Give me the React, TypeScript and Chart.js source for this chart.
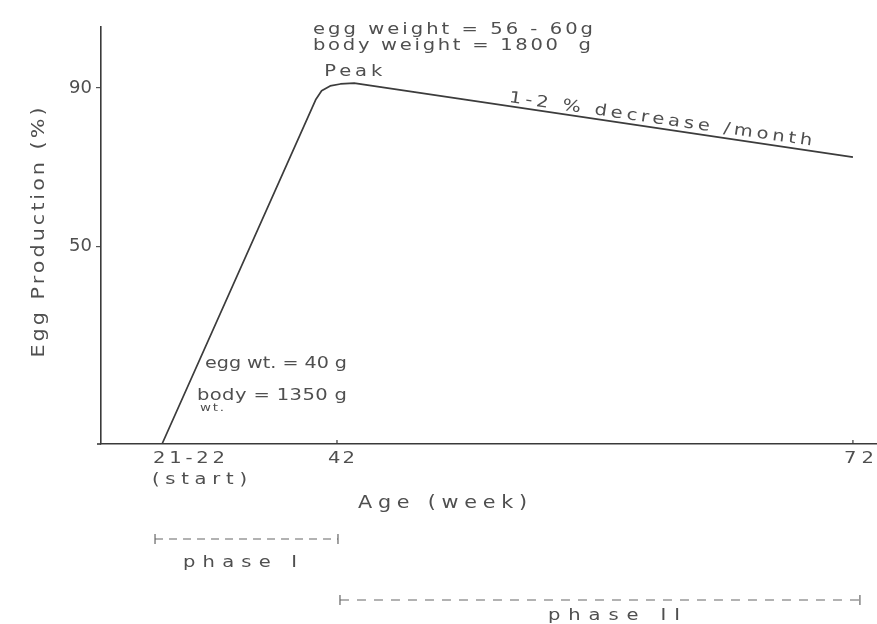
import React, { useEffect, useRef } from 'react';
import { Chart, LineController, LineElement, PointElement, LinearScale } from 'chart.js';

// ---- data ----
const ageWeeks = [21.5, 39.5, 40.2, 41.2, 42.2, 43.0, 72];
const eggProduction = [0, 87.0, 89.3, 90.5, 91.0, 91.2, 72.5];
const xTickValues = [21.5, 42, 72];
const xTickLabels = [['21-22', '(start)'], ['42'], ['72']];
const yTickValues = [50, 90];
const phaseLabels = ['phase I', 'phase II'];
const phaseStarts = [21.5, 42];
const phaseEnds = [42, 72];

const FONT = '"DejaVu Sans", sans-serif';
const INK = '#4f4f4f';

// A linear scale made of two linear pieces (the sketch uses a different
// spacing before and after week 42).
class PiecewiseLinearScale extends LinearScale {
  static id = 'piecewiseLinear';
  static defaults = {};
  _toDecimal(value: number) {
    const o: any = this.options;
    const pv = o.pivotValue as number;
    const pd = o.pivotDecimal as number;
    const min = this.min, max = this.max;
    if (value <= pv) return ((value - min) / (pv - min)) * pd;
    return pd + ((value - pv) / (max - pv)) * (1 - pd);
  }
  getPixelForValue(value: number) {
    if (value === null || value === undefined || isNaN(value)) return NaN;
    return this.getPixelForDecimal(this._toDecimal(value));
  }
  getValueForPixel(pixel: number) {
    const o: any = this.options;
    const pv = o.pivotValue as number;
    const pd = o.pivotDecimal as number;
    const d = this.getDecimalForPixel(pixel);
    if (d <= pd) return this.min + (d / pd) * (pv - this.min);
    return pv + ((d - pd) / (1 - pd)) * (this.max - pv);
  }
}

Chart.register(LineController, LineElement, PointElement, LinearScale, PiecewiseLinearScale);

function drawFit(
  ctx: CanvasRenderingContext2D,
  text: string,
  x: number,
  y: number,
  size: number,
  width: number,
  rot = 0,
  align: 'left' | 'center' = 'left',
  baseline: CanvasTextBaseline = 'alphabetic'
) {
  ctx.save();
  ctx.font = `${size}px ${FONT}`;
  (ctx as any).letterSpacing = '0px';
  const w0 = ctx.measureText(text).width;
  const n = Array.from(text).length;
  const stretch = Math.max(0.85, Math.min(1.22, width / w0));
  const sp = n > 1 ? Math.max(0, (width - w0 * stretch) / (n - 1) / stretch) : 0;
  (ctx as any).letterSpacing = `${sp}px`;
  ctx.fillStyle = INK;
  ctx.textAlign = 'left';
  ctx.textBaseline = baseline;
  ctx.translate(x, y);
  ctx.rotate(rot);
  ctx.scale(stretch, 1);
  ctx.fillText(text, align === 'center' ? -width / 2 / stretch : 0, 0);
  ctx.restore();
}

const sketchPlugin = {
  id: 'sketchAnnotations',
  afterDraw(chart: any) {
    const ctx: CanvasRenderingContext2D = chart.ctx;
    const xs = chart.scales.x;
    const ys = chart.scales.y;
    const ca = chart.chartArea;

    // little overshoot of the x axis to the left of the y axis
    ctx.save();
    ctx.strokeStyle = '#3a3a3a';
    ctx.lineWidth = 1.6;
    ctx.beginPath();
    ctx.moveTo(ca.left - 4, ca.bottom);
    ctx.lineTo(ca.left, ca.bottom);
    ctx.stroke();
    // tiny tick marks above the x axis at 42 and 72
    [1, 2].forEach((i) => {
      const px = xs.getPixelForValue(xTickValues[i]);
      ctx.lineWidth = 1.2;
      ctx.beginPath();
      ctx.moveTo(px, ca.bottom);
      ctx.lineTo(px, ca.bottom - 4);
      ctx.stroke();
    });
    ctx.restore();

    // x tick labels (hand lettering starts a little left of each tick)
    const tickWidths = [[72, 95], [27], [30]];
    xTickValues.forEach((v, i) => {
      const px = xs.getPixelForValue(v);
      xTickLabels[i].forEach((lab, j) => {
        drawFit(ctx, lab, px - 9 - j, ca.bottom + 19 + j * 21, 16, tickWidths[i][j]);
      });
    });

    // axis titles
    drawFit(ctx, 'Egg Production (%)', 40, (ca.top + ca.bottom) / 2 - 3, 17, 250, -Math.PI / 2, 'center', 'middle');
    drawFit(ctx, 'Age (week)', 358, 508, 17, 169);

    // annotations
    const apexX = xs.getPixelForValue(ageWeeks[5]);
    const apexY = ys.getPixelForValue(eggProduction[5]);
    drawFit(ctx, 'egg weight = 56 - 60g', 313, 34, 16, 280);
    drawFit(ctx, 'body weight = 1800  g', 313, 50, 16, 278);
    drawFit(ctx, 'Peak', apexX - 30, apexY - 7, 16, 58);

    const p1x = xs.getPixelForValue(ageWeeks[5]);
    const p1y = ys.getPixelForValue(eggProduction[5]);
    const p2x = xs.getPixelForValue(ageWeeks[6]);
    const p2y = ys.getPixelForValue(eggProduction[6]);
    const ang = Math.atan2(p2y - p1y, p2x - p1x);
    const t = (508 - p1x) / (p2x - p1x);
    const bx = p1x + t * (p2x - p1x) + Math.sin(ang) * 4;
    const by = p1y + t * (p2y - p1y) - Math.cos(ang) * 4;
    drawFit(ctx, '1-2 % decrease /month', bx, by, 16, 306, ang * 0.97);

    drawFit(ctx, 'egg wt. = 40 g', 205, 368, 16, 142);
    drawFit(ctx, 'body = 1350 g', 197, 400, 16, 150);
    drawFit(ctx, 'wt.', 200, 411, 11, 24);

    // phase brackets
    const rowY = [539, 600];
    const padL = [-7, 3];
    const padR = [1, 7];
    const labX = [183, 548];
    const labW = [114, 132];
    const labY = [567, 620];
    phaseLabels.forEach((lab, i) => {
      const a = xs.getPixelForValue(phaseStarts[i]) + padL[i];
      const b = xs.getPixelForValue(phaseEnds[i]) + padR[i];
      const y = rowY[i];
      ctx.save();
      ctx.strokeStyle = '#666';
      ctx.lineWidth = 1.2;
      ctx.setLineDash(i === 0 ? [8, 6] : [9, 8]);
      ctx.beginPath();
      ctx.moveTo(a, y);
      ctx.lineTo(b, y);
      ctx.stroke();
      ctx.setLineDash([]);
      ctx.beginPath();
      ctx.moveTo(a, y - 5);
      ctx.lineTo(a, y + 5);
      ctx.moveTo(b, y - 5);
      ctx.lineTo(b, y + 5);
      ctx.stroke();
      ctx.restore();
      drawFit(ctx, lab, labX[i], labY[i], 16, labW[i]);
    });
  },
};

export default function App() {
  const ref = useRef<HTMLCanvasElement | null>(null);

  useEffect(() => {
    if (!ref.current) return;
    const chart = new Chart(ref.current, {
      type: 'line',
      data: {
        datasets: [
          {
            data: ageWeeks.map((x, i) => ({ x, y: eggProduction[i] })),
            borderColor: '#3c3c3c',
            borderWidth: 1.7,
            pointRadius: 0,
            tension: 0,
            borderJoinStyle: 'round',
            fill: false,
          },
        ],
      },
      options: {
        animation: false,
        responsive: true,
        maintainAspectRatio: false,
        events: [],
        layout: { padding: { top: 27, left: 0, right: 0, bottom: 0 } },
        plugins: { legend: { display: false }, tooltip: { enabled: false }, title: { display: false } },
        scales: {
          x: {
            type: 'piecewiseLinear' as any,
            min: 14.35,
            max: 73.4,
            bounds: 'data',
            pivotValue: 42,
            pivotDecimal: 0.3041,
            grid: { display: false },
            border: { display: true, color: '#3a3a3a', width: 1.6 },
            ticks: { display: false },
            afterBuildTicks: (s: any) => {
              s.ticks = xTickValues.map((v) => ({ value: v }));
            },
            afterFit: (s: any) => {
              s.height = 180;
            },
          } as any,
          y: {
            type: 'linear',
            min: 0,
            max: 105.4,
            bounds: 'data',
            grid: { display: true, drawOnChartArea: false, drawTicks: true, tickLength: 5, color: '#555', lineWidth: 1.2 },
            border: { display: true, color: '#3a3a3a', width: 1.6 },
            ticks: {
              color: INK,
              padding: 4,
              font: { family: FONT, size: 18 },
            },
            afterBuildTicks: (s: any) => {
              s.ticks = yTickValues.map((v) => ({ value: v }));
            },
            afterFit: (s: any) => {
              s.width = 101;
            },
          },
        },
      },
      plugins: [sketchPlugin],
    } as any);
    return () => chart.destroy();
  }, []);

  return (
    <div style={{ position: 'fixed', left: 0, top: 0, width: 877, height: 624, background: '#fff' }}>
      <canvas ref={ref} />
    </div>
  );
}
